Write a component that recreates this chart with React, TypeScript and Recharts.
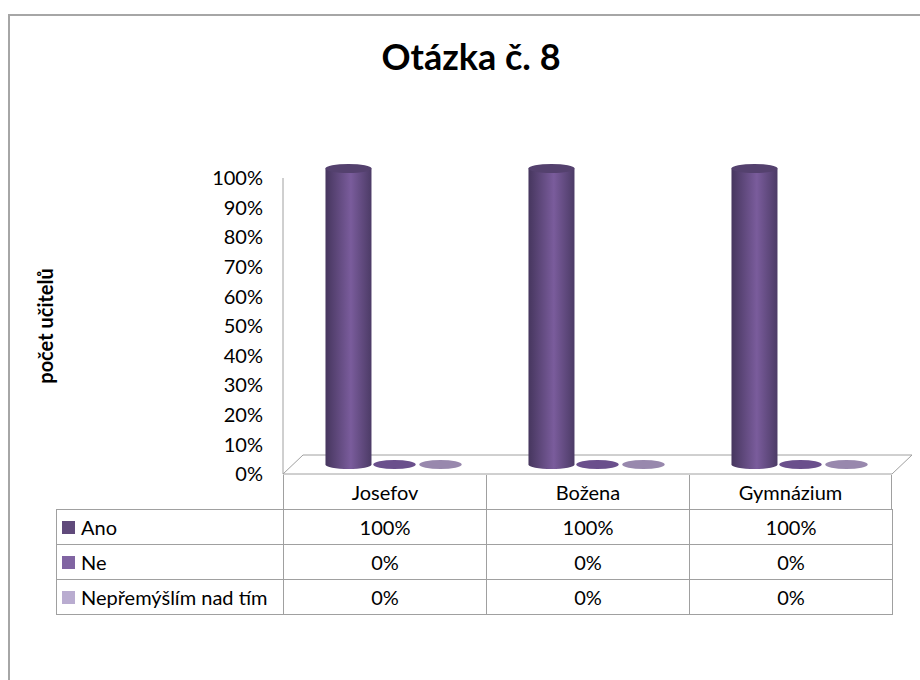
import React from 'react'
import { BarChart, Bar, XAxis, YAxis, ReferenceArea } from 'recharts'

const categories = ['Josefov', 'Božena', 'Gymnázium']
const seriesNames = ['Ano', 'Ne', 'Nepřemýšlím nad tím']
const ano = [100, 100, 100]
const ne = [0, 0, 0]
const nepremyslim = [0, 0, 0]
const yTicks = [0, 10, 20, 30, 40, 50, 60, 70, 80, 90, 100]

const seriesValues = [ano, ne, nepremyslim]
const legendColors = ['#604a7b', '#8064a2', '#b9acd0']
const capColors = ['#54416e', '#6a4f8c', '#9888ad']
const gradStops = [
  ['#46365e', '#7a5c9c', '#4c3b66'],
  ['#5a4378', '#7e62a0', '#5a4378'],
  ['#8a7aa0', '#a898bc', '#8a7aa0'],
]

const data = categories.map((name, i) => ({
  name,
  ano: ano[i],
  ne: ne[i],
  nepremyslim: nepremyslim[i],
}))
const seriesKeys = ['ano', 'ne', 'nepremyslim']

const W = 920
const H = 680
const PLOT_LEFT = 283
const PLOT_RIGHT = 892
const PLOT_TOP = 178
const PLOT_BOTTOM = 474
const DEPTH_X = 20
const DEPTH_Y = 19
const FONT = 'Lato, "Open Sans", sans-serif'

function Cylinder(props: any) {
  const { x, y, width, height, idx } = props
  const rx = width / 2
  const ry = 4.5
  const cx = x + rx + DEPTH_X / 2
  const base = y + height - DEPTH_Y / 2
  const top = y - DEPTH_Y / 2
  if (!height || height < 1) {
    return <ellipse cx={cx} cy={base} rx={rx * 0.92} ry={ry} fill={capColors[idx]} />
  }
  return (
    <g>
      <path
        d={`M${cx - rx},${top} L${cx - rx},${base} A${rx},${ry} 0 0 0 ${cx + rx},${base} L${cx + rx},${top} Z`}
        fill={`url(#cyl${idx})`}
      />
      <ellipse cx={cx} cy={top} rx={rx} ry={ry} fill={capColors[idx]} />
    </g>
  )
}

function Floor(props: any) {
  const { x, y, width, height } = props
  const fy = y + height
  return (
    <polygon
      points={`${x},${fy} ${x + width},${fy} ${x + width + DEPTH_X},${fy - DEPTH_Y} ${x + DEPTH_X},${fy - DEPTH_Y}`}
      fill="#fff"
      stroke="#a0a0a0"
      strokeWidth={1}
    />
  )
}

function YLabel(props: any) {
  const vb = props.viewBox
  const cx = vb.x + 37
  const cy = vb.y + vb.height / 2
  return (
    <text
      x={cx}
      y={cy}
      transform={`rotate(-90, ${cx}, ${cy})`}
      textAnchor="middle"
      dominantBaseline="central"
      fontFamily={FONT}
      fontWeight="bold"
      fontSize={20}
      fill="#000"
    >
      počet učitelů
    </text>
  )
}

const colW = (PLOT_RIGHT - PLOT_LEFT) / categories.length
const border = '1px solid #a0a0a0'

export default function App() {
  return (
    <div
      style={{
        position: 'absolute',
        left: 0,
        top: 0,
        width: W,
        height: H,
        background: '#fff',
        overflow: 'hidden',
        fontFamily: FONT,
      }}
    >
      <div
        style={{
          position: 'absolute',
          left: 8,
          top: 14,
          width: W,
          height: H,
          borderTop: '2px solid #a6a6a6',
          borderLeft: '2px solid #a6a6a6',
        }}
      />
      <div
        style={{
          position: 'absolute',
          left: 321,
          top: 34,
          width: 300,
          textAlign: 'center',
          fontSize: 36,
          lineHeight: '44px',
          fontWeight: 'bold',
          color: '#000',
        }}
      >
        Otázka č. 8
      </div>
      <div style={{ position: 'absolute', left: 0, top: 0 }}>
        <BarChart
          width={W}
          height={H}
          data={data}
          margin={{ top: PLOT_TOP, bottom: H - PLOT_BOTTOM, left: 8, right: W - PLOT_RIGHT }}
          barCategoryGap="16%"
          barGap={0}
        >
          <defs>
            {gradStops.map((g, i) => (
              <linearGradient key={i} id={`cyl${i}`} x1="0" y1="0" x2="1" y2="0">
                <stop offset="0%" stopColor={g[0]} />
                <stop offset="55%" stopColor={g[1]} />
                <stop offset="100%" stopColor={g[2]} />
              </linearGradient>
            ))}
          </defs>
          <ReferenceArea y1={0} y2={100} shape={Floor} ifOverflow="visible" />
          <XAxis dataKey="name" hide />
          <YAxis
            width={275}
            domain={[0, 100]}
            ticks={yTicks}
            interval={0}
            tickFormatter={(v) => `${v}%`}
            tickLine={false}
            tickSize={0}
            tickMargin={20}
            axisLine={{ stroke: '#a0a0a0' }}
            tick={{ fill: '#000', fontSize: 20, fontFamily: FONT }}
            label={YLabel}
          />
          {seriesKeys.map((k, i) => (
            <Bar
              key={k}
              dataKey={k}
              name={seriesNames[i]}
              isAnimationActive={false}
              shape={(p: any) => <Cylinder {...p} idx={i} />}
            />
          ))}
        </BarChart>
      </div>
      {/* data table under the plot */}
      <div style={{ position: 'absolute', left: 0, top: 0, fontSize: 20, color: '#000' }}>
        {categories.map((c, j) => (
          <div
            key={c}
            style={{
              position: 'absolute',
              left: PLOT_LEFT + j * colW,
              top: PLOT_BOTTOM + 1,
              width: colW,
              height: 34,
              boxSizing: 'border-box',
              borderLeft: border,
              borderRight: j === categories.length - 1 ? border : 'none',
              display: 'flex',
              alignItems: 'center',
              justifyContent: 'center',
            }}
          >
            {c}
          </div>
        ))}
        {seriesNames.map((s, i) => (
          <React.Fragment key={s}>
            <div
              style={{
                position: 'absolute',
                left: 56,
                top: 509 + i * 35,
                width: PLOT_LEFT - 56 + 1,
                height: 36,
                boxSizing: 'border-box',
                border: border,
                display: 'flex',
                alignItems: 'center',
                paddingLeft: 5,
                whiteSpace: 'nowrap',
              }}
            >
              <span
                style={{
                  display: 'inline-block',
                  width: 13,
                  height: 13,
                  background: legendColors[i],
                  marginRight: 6,
                }}
              />
              {s}
            </div>
            {categories.map((c, j) => (
              <div
                key={c}
                style={{
                  position: 'absolute',
                  left: PLOT_LEFT + j * colW,
                  top: 509 + i * 35,
                  width: colW + 1,
                  height: 36,
                  boxSizing: 'border-box',
                  border: border,
                  display: 'flex',
                  alignItems: 'center',
                  justifyContent: 'center',
                }}
              >
                {`${seriesValues[i][j]}%`}
              </div>
            ))}
          </React.Fragment>
        ))}
      </div>
    </div>
  )
}
